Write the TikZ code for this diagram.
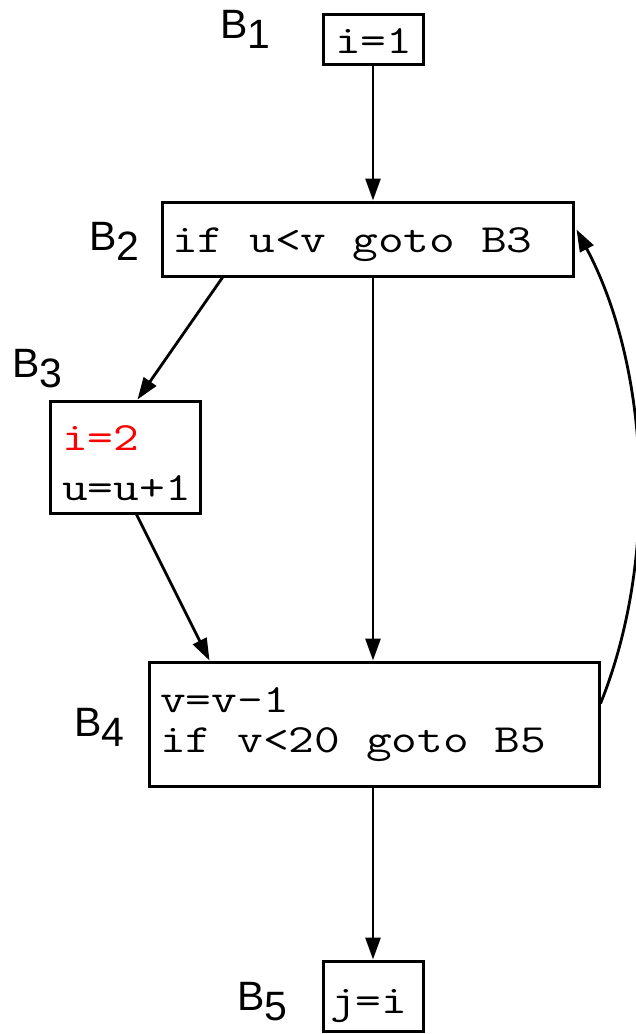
\documentclass[tikz,border=0pt]{standalone}
\usepackage{fontspec}
\setsansfont{Liberation Sans}
\usetikzlibrary{arrows.meta,calc}
\newcommand\lowsub[1]{\raisebox{-10pt}{#1}}
\newcommand\cw[1]{\scalebox{1.25}[1]{#1}}
\begin{document}
\begin{tikzpicture}[x=1pt,y=-1pt,
  blockbox/.style={draw, rectangle, line width=3pt, inner sep=0pt},
  code/.style={font=\ttfamily\fontsize{40}{40}\selectfont, inner sep=0pt, anchor=base west, align=left},
  lbl/.style={font=\sffamily\fontsize{41}{41}\selectfont, inner sep=0pt, anchor=base west},
  arr/.style={-{Triangle[length=22pt,width=15pt]}, line width=2.8pt}]
\useasboundingbox (0,0) rectangle (636,1034);
% blocks
\node[blockbox, minimum width=100pt, minimum height=50pt] (B1) at (373,39) {};
\node[blockbox, minimum width=411pt, minimum height=74pt] (B2) at (367.5,239) {};
\node[blockbox, minimum width=150pt, minimum height=112pt] (B3) at (125,457) {};
\node[blockbox, minimum width=450pt, minimum height=124pt] (B4) at (374,724) {};
\node[blockbox, minimum width=100pt, minimum height=70pt] (B5) at (373,996) {};
% code
\node[code] (t1) at (335,53) {\cw{i=1}};
\node[code] (t2) at (172,252) {\cw{if u<v goto B3}};
\node[code, font=\ttfamily\fontsize{40}{50}\selectfont] (t3) at (62,500.5) {\textcolor{red}{\cw{i=2}}\\\cw{u=u+1}};
\node[code] (t4) at (160,752) {\cw{v=v-1}\\\cw{if v<20 goto B5}};
\node[code] (t5) at (330,1013) {\cw{j=i}};
% labels
\node[lbl] (L1) at (220,38) {B\lowsub{1}};
\node[lbl] (L2) at (89,250) {B\lowsub{2}};
\node[lbl] (L3) at (12,377) {B\lowsub{3}};
\node[lbl] (L4) at (74,736) {B\lowsub{4}};
\node[lbl] (L5) at (237,1010) {B\lowsub{5}};
% connectors
\draw[arr] (B1.south) -- (B2.north -| B1.south);
\draw[arr] ($(B2.south west)+(62,0)$) -- ($(B3.north west)+(89,0)$);
\draw[arr] (B2.south -| B1.south) -- (B4.north -| B1.south);
\draw[arr] ($(B3.south west)+(88,0)$) -- ($(B4.north west)+(62,0)$);
\draw[arr] (B4.south -| B1.south) -- (B5.north);
\coordinate (cs) at ($(B4.north east)+(0,43)$);
\coordinate (ce) at ($(B2.north east)+(2,29)$);
\draw[arr] (cs) .. controls +(58.5,-144.6) and +(73.2,137.7) .. (ce);
\end{tikzpicture}
\end{document}
